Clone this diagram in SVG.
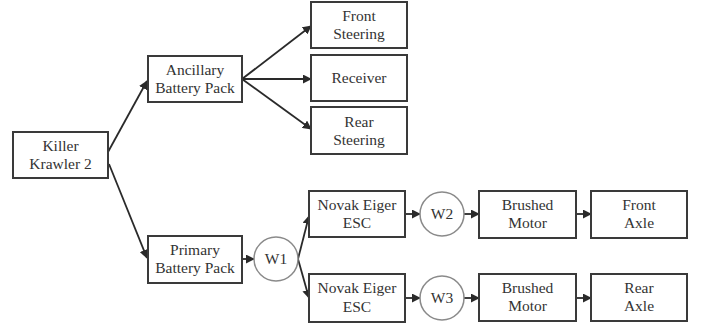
<svg xmlns="http://www.w3.org/2000/svg" width="707" height="327" viewBox="0 0 707 327">
<defs>
<style>
.box{fill:#fff;stroke:#3a3a3a;stroke-width:2}
.circ{fill:#fff;stroke:#8a8a8a;stroke-width:1.5}
.c{stroke:#2a2a2a;stroke-width:1.8;fill:none;marker-end:url(#ah)}
</style>
<marker id="ah" viewBox="0 0 10 10" refX="9" refY="5" markerWidth="5" markerHeight="5" orient="auto" markerUnits="strokeWidth">
<path d="M0,0 L10,5 L0,10 z" fill="#2a2a2a"/>
</marker>
</defs>
<rect width="707" height="327" fill="#fff"/>
<g id="connectors">
<line class="c" x1="108" y1="152" x2="147" y2="81"/>
<line class="c" x1="109" y1="164" x2="147" y2="258"/>
<line class="c" x1="242" y1="79" x2="311" y2="26"/>
<line class="c" x1="242" y1="79" x2="311" y2="79"/>
<line class="c" x1="242" y1="79" x2="311" y2="129"/>
<line class="c" x1="242" y1="259" x2="254" y2="259"/>
<line class="c" x1="298" y1="259" x2="309" y2="216"/>
<line class="c" x1="298" y1="259" x2="309" y2="298"/>
<line class="c" x1="405" y1="214" x2="420" y2="214"/>
<line class="c" x1="463" y1="214" x2="479" y2="214"/>
<line class="c" x1="576" y1="214" x2="591" y2="214"/>
<line class="c" x1="405" y1="298" x2="420" y2="298"/>
<line class="c" x1="463" y1="298" x2="479" y2="298"/>
<line class="c" x1="576" y1="298" x2="591" y2="298"/>
</g>
<g id="nodes">
<g id="killer"><rect class="box" x="13" y="132" width="95" height="46"/><text font-family="Liberation Serif" font-size="15.5" fill="#333" text-anchor="middle" x="60.5" y="151">Killer</text><text font-family="Liberation Serif" font-size="15.5" fill="#333" text-anchor="middle" x="60.5" y="169">Krawler 2</text></g>
<g id="ancillary"><rect class="box" x="148" y="56" width="94" height="46"/><text font-family="Liberation Serif" font-size="15.5" fill="#333" text-anchor="middle" x="195" y="75">Ancillary</text><text font-family="Liberation Serif" font-size="15.5" fill="#333" text-anchor="middle" x="195" y="93">Battery Pack</text></g>
<g id="primary"><rect class="box" x="148" y="236" width="94" height="47"/><text font-family="Liberation Serif" font-size="15.5" fill="#333" text-anchor="middle" x="195" y="255">Primary</text><text font-family="Liberation Serif" font-size="15.5" fill="#333" text-anchor="middle" x="195" y="273">Battery Pack</text></g>
<g id="front-steering"><rect class="box" x="311" y="2" width="96" height="46"/><text font-family="Liberation Serif" font-size="15.5" fill="#333" text-anchor="middle" x="359" y="21">Front</text><text font-family="Liberation Serif" font-size="15.5" fill="#333" text-anchor="middle" x="359" y="39">Steering</text></g>
<g id="receiver"><rect class="box" x="311" y="55" width="96" height="46"/><text font-family="Liberation Serif" font-size="15.5" fill="#333" text-anchor="middle" x="359" y="83">Receiver</text></g>
<g id="rear-steering"><rect class="box" x="311" y="107" width="96" height="47"/><text font-family="Liberation Serif" font-size="15.5" fill="#333" text-anchor="middle" x="359" y="127">Rear</text><text font-family="Liberation Serif" font-size="15.5" fill="#333" text-anchor="middle" x="359" y="145">Steering</text></g>
<g id="w1"><circle class="circ" cx="276" cy="259" r="22"/><text font-family="Liberation Serif" font-size="15.5" fill="#333" text-anchor="middle" x="276" y="264">W1</text></g>
<g id="esc1"><rect class="box" x="309" y="191" width="96" height="46"/><text font-family="Liberation Serif" font-size="15.5" fill="#333" text-anchor="middle" x="357" y="210">Novak Eiger</text><text font-family="Liberation Serif" font-size="15.5" fill="#333" text-anchor="middle" x="357" y="228">ESC</text></g>
<g id="esc2"><rect class="box" x="309" y="274" width="96" height="48"/><text font-family="Liberation Serif" font-size="15.5" fill="#333" text-anchor="middle" x="357" y="293">Novak Eiger</text><text font-family="Liberation Serif" font-size="15.5" fill="#333" text-anchor="middle" x="357" y="312">ESC</text></g>
<g id="w2"><circle class="circ" cx="442" cy="214" r="22"/><text font-family="Liberation Serif" font-size="15.5" fill="#333" text-anchor="middle" x="442" y="219">W2</text></g>
<g id="w3"><circle class="circ" cx="442" cy="298" r="22"/><text font-family="Liberation Serif" font-size="15.5" fill="#333" text-anchor="middle" x="442" y="303">W3</text></g>
<g id="motor1"><rect class="box" x="479" y="191" width="97" height="47"/><text font-family="Liberation Serif" font-size="15.5" fill="#333" text-anchor="middle" x="527.5" y="210">Brushed</text><text font-family="Liberation Serif" font-size="15.5" fill="#333" text-anchor="middle" x="527.5" y="228">Motor</text></g>
<g id="motor2"><rect class="box" x="479" y="274" width="97" height="47"/><text font-family="Liberation Serif" font-size="15.5" fill="#333" text-anchor="middle" x="527.5" y="293">Brushed</text><text font-family="Liberation Serif" font-size="15.5" fill="#333" text-anchor="middle" x="527.5" y="311">Motor</text></g>
<g id="front-axle"><rect class="box" x="591" y="191" width="96" height="47"/><text font-family="Liberation Serif" font-size="15.5" fill="#333" text-anchor="middle" x="639" y="210">Front</text><text font-family="Liberation Serif" font-size="15.5" fill="#333" text-anchor="middle" x="639" y="228">Axle</text></g>
<g id="rear-axle"><rect class="box" x="591" y="274" width="96" height="47"/><text font-family="Liberation Serif" font-size="15.5" fill="#333" text-anchor="middle" x="639" y="293">Rear</text><text font-family="Liberation Serif" font-size="15.5" fill="#333" text-anchor="middle" x="639" y="311">Axle</text></g>
</g>
</svg>
